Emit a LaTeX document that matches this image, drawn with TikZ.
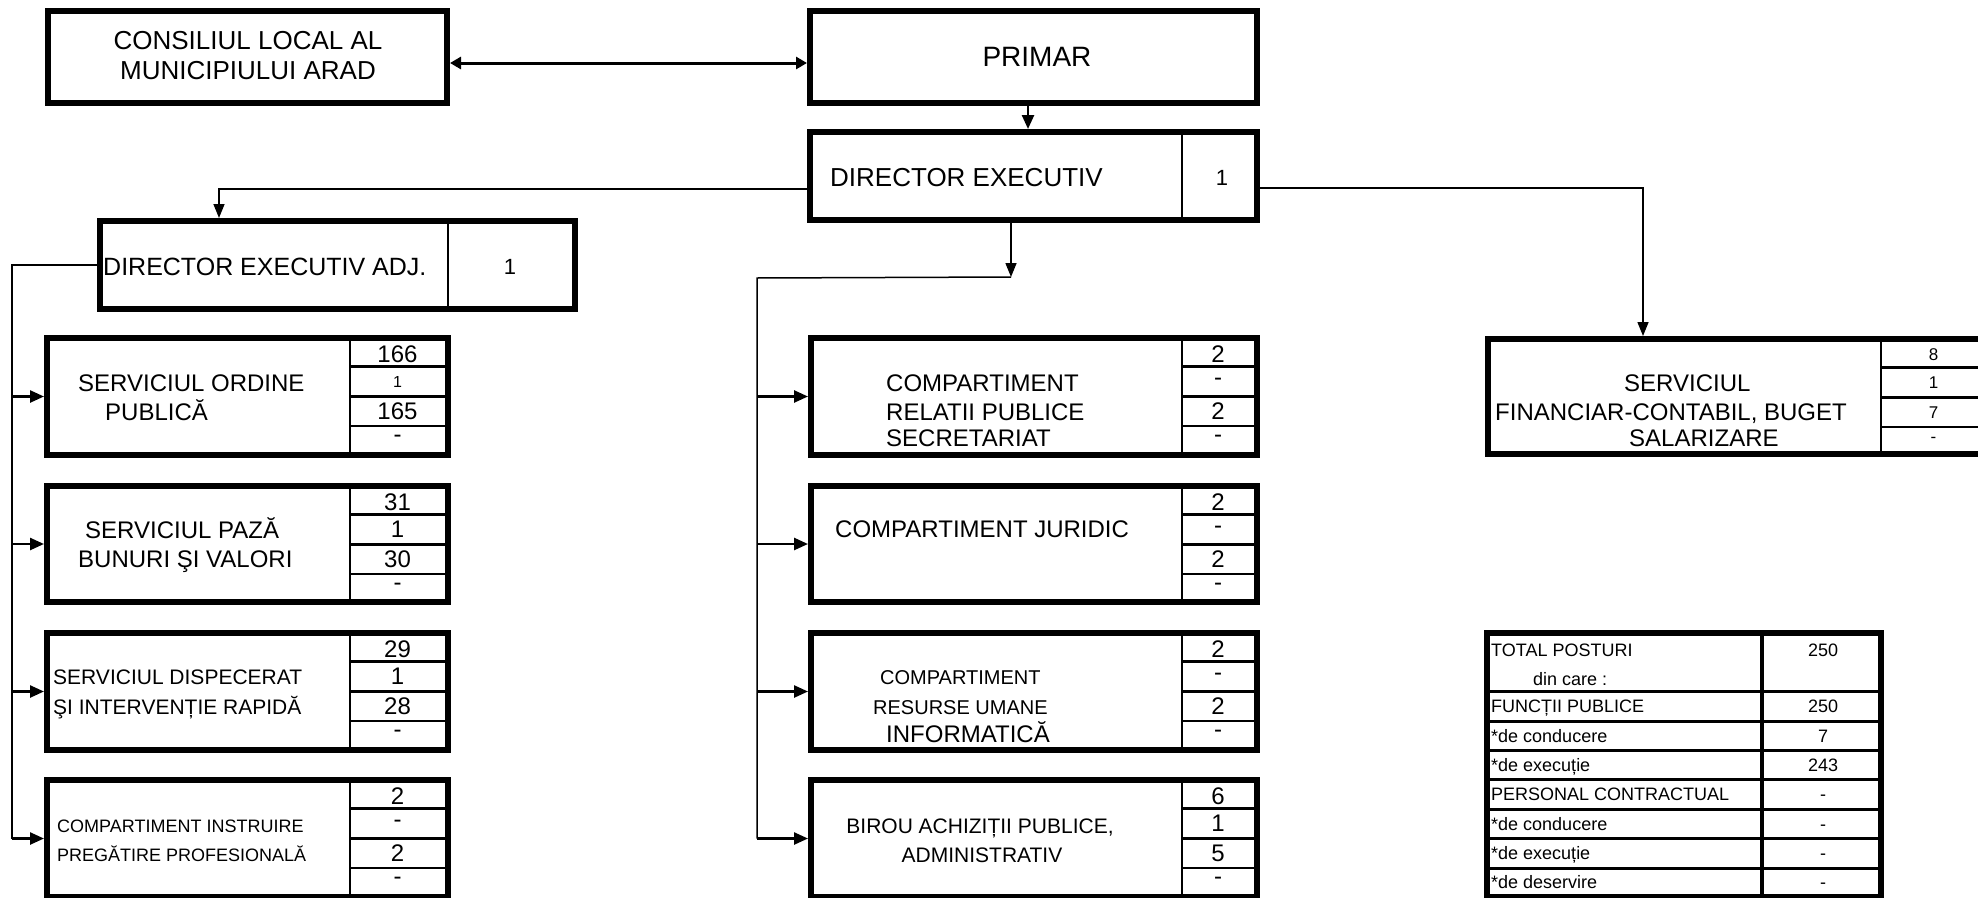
\documentclass[tikz,border=0pt]{standalone}
\usepackage{fontspec}
\setmainfont{Liberation Sans}
\usetikzlibrary{arrows.meta,calc}
\newcommand{\fs}[1]{\fontsize{#1}{#1}\selectfont}
\newcommand{\mkbox}[5]{\node[box, anchor=north west, minimum width={(#4-#2-6)*1pt}, minimum height={(#5-#3-6)*1pt}] (#1) at (#2,#3) {};}
\newcommand{\qcells}[9]{%
  \draw[cellline] (#2,{#4+6}) -- (#2,{#5-6});
  \foreach \yy in {31.5,61.5,91}{\draw[cellline] (#2,{#4+\yy}) -- ({#3-6},{#4+\yy});}
  \node[num] (#1-n1) at ({(#2+#3-6)/2},{#4+18.75}) {#6};
  \node[num] (#1-n2) at ({(#2+#3-6)/2},{#4+46.5}) {#7};
  \node[num] (#1-n3) at ({(#2+#3-6)/2},{#4+76.25}) {#8};
  \node[num] (#1-n4) at ({(#2+#3-6)/2},{#4+104}) {#9};
}
\begin{document}
\begin{tikzpicture}[x=1pt,y=-1pt,
  box/.style={draw, line width=6pt, inner sep=0pt, outer sep=3pt},
  cellline/.style={line width=2.5pt},
  num/.style={inner sep=0pt, font=\fs{24}},
  lbl/.style={inner sep=0pt, anchor=base west},
  clbl/.style={inner sep=0pt, anchor=base},
  conn/.style={line width=1.5pt},
  arr/.style={line width=2.5pt, -{Triangle[length=14pt,width=12pt]}},
  tip/.style={-{Triangle[length=14pt,width=11pt]}},
]
\fill[white] (0,0) rectangle (1978,897);
\useasboundingbox (0,0) rectangle (1978,897);

% boxes
\mkbox{cons}{45}{8}{450}{106}
\mkbox{primar}{807}{8}{1260}{106}
\mkbox{de}{807}{129}{1260}{223}
\mkbox{dea}{97}{218}{578}{312}
\mkbox{ord}{44}{335}{451}{458}
\mkbox{paza}{44}{483}{451}{605}
\mkbox{disp}{44}{630}{451}{753}
\mkbox{instr}{44}{777}{451}{900}
\mkbox{crp}{808}{335}{1260}{458}
\mkbox{jur}{808}{483}{1260}{605}
\mkbox{rui}{808}{630}{1260}{753}
\mkbox{bir}{808}{777}{1260}{900}
\mkbox{sfc}{1485}{336}{1992}{457}
\mkbox{tot}{1484}{630}{1884}{900}

% dividers of director boxes
\draw[cellline] (1182,135) -- (1182,217);
\draw[cellline] (448,224) -- (448,306);

% connectors
\draw[line width=3pt, {Triangle[length=11pt,width=12pt]}-{Triangle[length=11pt,width=12pt]}] ([yshift=-6pt]cons.east) -- ([yshift=-6pt]primar.west);
\draw[arr] ([xshift=221pt]primar.south west) -- ([xshift=221pt]de.north west);
\draw[conn, tip] ([yshift=-13pt]de.west) -| ([xshift=122pt]dea.north west);
\draw[conn, tip] ([yshift=-12pt]de.east) -| ([xshift=158pt]sfc.north west);
\draw[conn, tip] ([xshift=204pt]de.south west) -- ++(0,54) coordinate (mj);
\coordinate (mbus) at (757,278);
\draw[conn] (mj) -- (mbus) -- (mbus |- bir.west);
\foreach \n in {crp,jur,rui,bir} \draw[arr] (mbus |- \n.west) -- (\n.west);
\coordinate (lbus) at (12,265);
\draw[conn] (dea.west) -- (lbus) -- (lbus |- instr.west);
\foreach \n in {ord,paza,disp,instr} \draw[arr] (lbus |- \n.west) -- (\n.west);

% labels
\node[clbl, font=\fs{26}] (cons-1) at (248,49.3) {CONSILIUL LOCAL AL};
\node[clbl, font=\fs{26}] (cons-2) at (248,79.3) {MUNICIPIULUI ARAD};
\node[clbl, font=\fs{28}] (primar-1) at (1037,66) {PRIMAR};
\node[lbl, font=\fs{26}] (de-1) at (830,186.3) {DIRECTOR EXECUTIV};
\node[clbl, font=\fs{22}] (de-n) at (1222,185) {1};
\node[lbl, font=\fs{25}] (dea-1) at (103,275) {DIRECTOR EXECUTIV ADJ.};
\node[clbl, font=\fs{22}] (dea-n) at (510,274) {1};

\node[lbl, font=\fs{24}] (ord-1) at (78,391.6) {SERVICIUL ORDINE};
\node[lbl, font=\fs{24}] (ord-2) at (105,420.6) {PUBLICĂ};
\node[lbl, font=\fs{24}] (paza-1) at (85,538.6) {SERVICIUL PAZĂ};
\node[lbl, font=\fs{24}] (paza-2) at (78,567.6) {BUNURI ŞI VALORI};
\node[lbl, font=\fs{21}] (disp-1) at (53,684.5) {SERVICIUL DISPECERAT};
\node[lbl, font=\fs{21}] (disp-2) at (53,714.5) {ŞI INTERVENȚIE RAPIDĂ};
\node[lbl, font=\fs{18}] (instr-1) at (57,832.4) {COMPARTIMENT INSTRUIRE};
\node[lbl, font=\fs{18}] (instr-2) at (57,861.4) {PREGĂTIRE PROFESIONALĂ};

\node[lbl, font=\fs{24}] (crp-1) at (886,391.6) {COMPARTIMENT};
\node[lbl, font=\fs{24}] (crp-2) at (886,420.6) {RELATII PUBLICE};
\node[lbl, font=\fs{24}] (crp-3) at (886,446.6) {SECRETARIAT};
\node[lbl, font=\fs{24}] (jur-1) at (835,537.6) {COMPARTIMENT JURIDIC};
\node[lbl, font=\fs{20}] (rui-1) at (880,684.2) {COMPARTIMENT};
\node[lbl, font=\fs{20}] (rui-2) at (873,714.2) {RESURSE UMANE};
\node[lbl, font=\fs{24}] (rui-3) at (886,742.6) {INFORMATICĂ};
\node[clbl, font=\fs{21}] (bir-1) at (980,833.5) {BIROU ACHIZIȚII PUBLICE,};
\node[clbl, font=\fs{21}] (bir-2) at (982,862.5) {ADMINISTRATIV};

\node[lbl, font=\fs{24}] (sfc-1) at (1624,391.6) {SERVICIUL};
\node[lbl, font=\fs{24}] (sfc-2) at (1495,420.6) {FINANCIAR-CONTABIL, BUGET};
\node[lbl, font=\fs{24}] (sfc-3) at (1629,446.6) {SALARIZARE};

% cells
\qcells{ord}{350}{451}{335}{458}{166}{\fs{16}1}{165}{-}
\qcells{paza}{350}{451}{483}{605}{31}{1}{30}{-}
\qcells{disp}{350}{451}{630}{753}{29}{1}{28}{-}
\qcells{instr}{350}{451}{777}{900}{2}{-}{2}{-}
\qcells{crp}{1182}{1260}{335}{458}{2}{-}{2}{-}
\qcells{jur}{1182}{1260}{483}{605}{2}{-}{2}{-}
\qcells{rui}{1182}{1260}{630}{753}{2}{-}{2}{-}
\qcells{bir}{1182}{1260}{777}{900}{6}{1}{5}{-}
\begin{scope}[num/.append style={font=\fs{17}}]
\qcells{sfc}{1881}{1992}{336}{457}{8}{1}{7}{-}
\end{scope}

% summary table
\draw[line width=3.5pt] (1762,636) -- (1762,894);
\foreach \yy in {691,721,750,779,809,838,868} \draw[line width=3pt] (1490,\yy) -- (1878,\yy);
\foreach \t/\yy [count=\i] in {TOTAL POSTURI/656.4, FUNCȚII PUBLICE/712.4, *de conducere/742.4, *de execuție/771.4, PERSONAL CONTRACTUAL/800.4, *de conducere/830.4, *de execuție/859.4, *de deservire/888.4}
  \node[lbl, font=\fs{18}] (tl\i) at (1491,\yy) {\t};
\node[lbl, font=\fs{18}] (tl-din) at (1533,685.4) {din care :};
\foreach \v/\yy [count=\i] in {250/656.4, 250/712.4, 7/742.4, 243/771.4, -/800.4, -/830.4, -/859.4, -/888.4}
  \node[clbl, font=\fs{18}] (tv\i) at (1823,\yy) {\v};
\end{tikzpicture}
\end{document}
